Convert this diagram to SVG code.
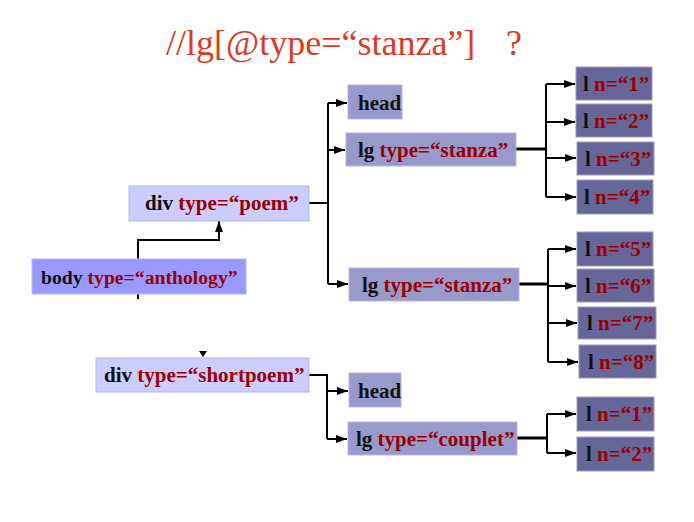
<svg xmlns="http://www.w3.org/2000/svg" width="694" height="522" viewBox="0 0 694 522">
  <style>
    .title { font-family: "Liberation Serif", "Times New Roman", serif; font-size: 36px; fill: #dd3a1f; }
    .lbl { font-family: "Liberation Serif", "Times New Roman", serif; font-size: 21px; font-weight: bold; fill: #111111; }
    .small { font-size: 19.7px; }
    .attr { fill: #990000; }
    .body { fill: #9999ff; stroke: #b8b8f0; stroke-width: 1; }
    .div { fill: #ccccff; stroke: #b8b8e0; stroke-width: 1; }
    .mid { fill: #9999cc; stroke: #b8b8d8; stroke-width: 1; }
    .leaf { fill: #666699; stroke: #9a9ab8; stroke-width: 1; }
    .wire { fill: none; stroke: #000000; stroke-width: 2; }
    .thick { fill: none; stroke: #000000; stroke-width: 3; }
    .arr { fill: none; stroke: #000000; stroke-width: 2; marker-end: url(#head); }
  </style>
  <defs>
    <marker id="head" markerUnits="userSpaceOnUse" markerWidth="12" markerHeight="10" refX="11" refY="5" orient="auto">
      <path d="M0,1 L11,5 L0,9 Z" fill="#000000"/>
    </marker>
  </defs>

  <rect width="694" height="522" fill="#ffffff"/>

  <!-- query heading -->
  <text class="title" x="166" y="55">//lg[@type=“stanza”]</text>
  <text class="title" x="506" y="55">?</text>

  <!-- connectors -->
  <g id="connectors">
    <!-- body up to div poem -->
    <path class="arr" d="M138,259 V240 H219 V221"/>
    <path class="wire" d="M138,294 V299"/>
    <path d="M199,351 L207,351 L203,357 Z" fill="#000000"/>
    <!-- div poem children -->
    <path class="wire" d="M309,203 H328 M328,103 V284"/>
    <path class="arr" d="M328,103 H347"/>
    <path class="arr" d="M328,150 H345"/>
    <path class="arr" d="M328,284 H348"/>
    <!-- first stanza lines -->
    <path class="thick" d="M516,149 H546"/>
    <path class="wire" d="M546,84 V197"/>
    <path class="arr" d="M546,84 H575"/>
    <path class="arr" d="M546,122 H575"/>
    <path class="arr" d="M546,158 H576"/>
    <path class="arr" d="M546,197 H576"/>
    <!-- second stanza lines -->
    <path class="thick" d="M519,284 H548"/>
    <path class="wire" d="M548,249 V362"/>
    <path class="arr" d="M548,249 H576"/>
    <path class="arr" d="M548,286 H576"/>
    <path class="arr" d="M548,323 H577"/>
    <path class="arr" d="M548,362 H578"/>
    <!-- div shortpoem children -->
    <path class="wire" d="M308,375 H327 V439"/>
    <path class="arr" d="M327,391 H348"/>
    <path class="arr" d="M327,439 H347"/>
    <!-- couplet lines -->
    <path class="thick" d="M517,438 H547"/>
    <path class="wire" d="M547,414 V453"/>
    <path class="arr" d="M547,414 H576"/>
    <path class="arr" d="M547,453 H576"/>
  </g>

  <g id="body-anthology">
    <rect class="body" x="32" y="259" width="214" height="35"/>
    <text class="lbl small" x="41" y="284">body <tspan class="attr">type=“anthology”</tspan></text>
  </g>

  <g id="div-poem">
    <rect class="div" x="129" y="186" width="180" height="35"/>
    <text class="lbl" x="145" y="210">div <tspan class="attr">type=“poem”</tspan></text>
  </g>

  <g id="head-1">
    <rect class="mid" x="348" y="85" width="54" height="34"/>
    <text class="lbl" x="358" y="110">head</text>
  </g>

  <g id="lg-stanza-1">
    <rect class="mid" x="346" y="133" width="170" height="33"/>
    <text class="lbl" x="358" y="157">lg <tspan class="attr">type=“stanza”</tspan></text>
  </g>

  <g id="lg-stanza-2">
    <rect class="mid" x="349" y="268" width="170" height="33"/>
    <text class="lbl" x="362" y="292">lg <tspan class="attr">type=“stanza”</tspan></text>
  </g>

  <g id="l-1">
    <rect class="leaf" x="576" y="67" width="76" height="33"/>
    <text class="lbl" x="583" y="91">l <tspan class="attr">n=“1”</tspan></text>
  </g>
  <g id="l-2">
    <rect class="leaf" x="576" y="104" width="76" height="33"/>
    <text class="lbl" x="583" y="128">l <tspan class="attr">n=“2”</tspan></text>
  </g>
  <g id="l-3">
    <rect class="leaf" x="577" y="142" width="77" height="33"/>
    <text class="lbl" x="585" y="166">l <tspan class="attr">n=“3”</tspan></text>
  </g>
  <g id="l-4">
    <rect class="leaf" x="577" y="180" width="76" height="34"/>
    <text class="lbl" x="584" y="204">l <tspan class="attr">n=“4”</tspan></text>
  </g>

  <g id="l-5">
    <rect class="leaf" x="577" y="232" width="76" height="34"/>
    <text class="lbl" x="585" y="256">l <tspan class="attr">n=“5”</tspan></text>
  </g>
  <g id="l-6">
    <rect class="leaf" x="577" y="269" width="77" height="33"/>
    <text class="lbl" x="585" y="293">l <tspan class="attr">n=“6”</tspan></text>
  </g>
  <g id="l-7">
    <rect class="leaf" x="578" y="307" width="78" height="32"/>
    <text class="lbl" x="587" y="330">l <tspan class="attr">n=“7”</tspan></text>
  </g>
  <g id="l-8">
    <rect class="leaf" x="579" y="345" width="77" height="33"/>
    <text class="lbl" x="588" y="369">l <tspan class="attr">n=“8”</tspan></text>
  </g>

  <g id="div-shortpoem">
    <rect class="div" x="96" y="358" width="213" height="34"/>
    <text class="lbl" x="104" y="382">div <tspan class="attr">type=“shortpoem”</tspan></text>
  </g>

  <g id="head-2">
    <rect class="mid" x="349" y="373" width="52" height="34"/>
    <text class="lbl" x="358" y="398">head</text>
  </g>

  <g id="lg-couplet">
    <rect class="mid" x="348" y="422" width="169" height="33"/>
    <text class="lbl" x="356" y="446">lg <tspan class="attr">type=“couplet”</tspan></text>
  </g>

  <g id="l-1b">
    <rect class="leaf" x="577" y="397" width="77" height="34"/>
    <text class="lbl" x="586" y="421">l <tspan class="attr">n=“1”</tspan></text>
  </g>
  <g id="l-2b">
    <rect class="leaf" x="577" y="437" width="77" height="34"/>
    <text class="lbl" x="586" y="461">l <tspan class="attr">n=“2”</tspan></text>
  </g>
</svg>
